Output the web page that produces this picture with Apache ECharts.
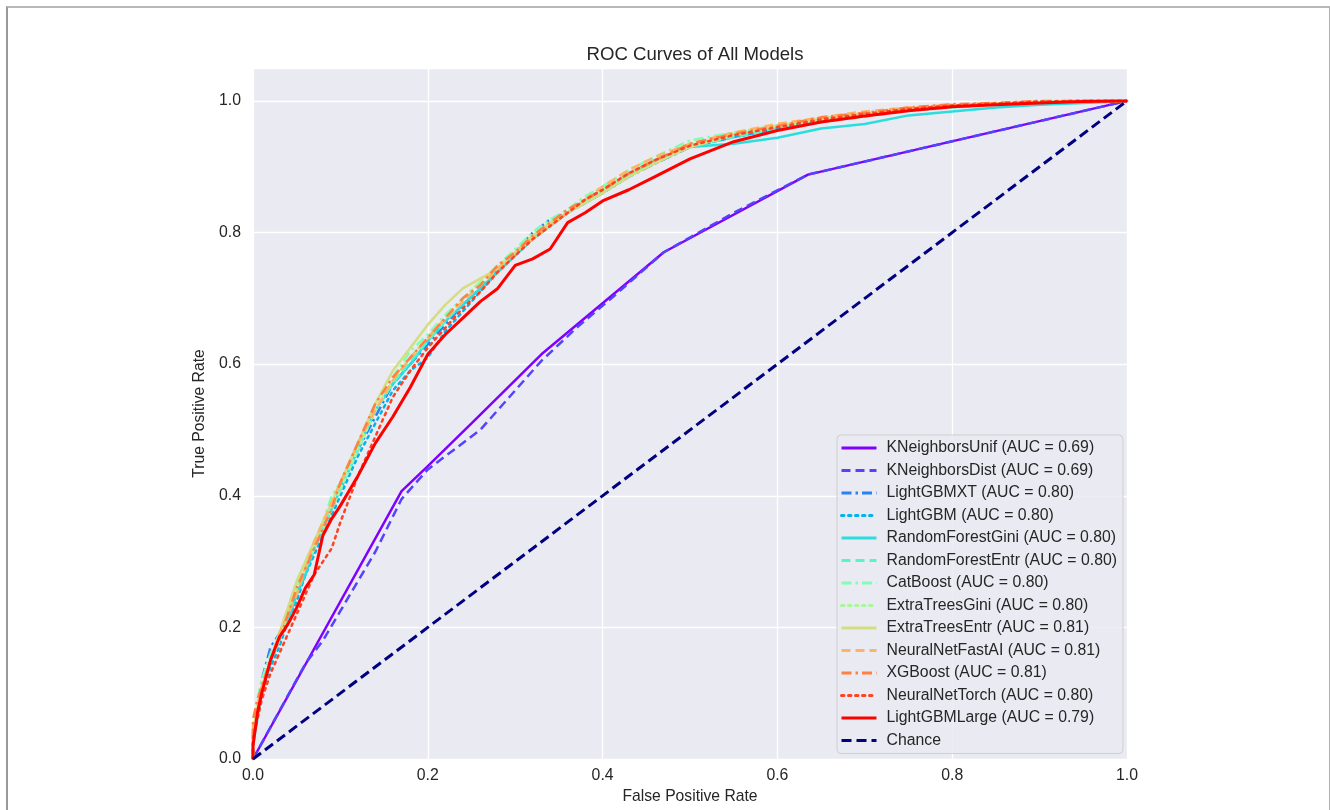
<!DOCTYPE html>
<html>
<head>
<meta charset="utf-8">
<script src="https://cdn.jsdelivr.net/npm/echarts@6/dist/echarts.min.js"></script>
<style>
  html, body { margin: 0; padding: 0; background: #fff; }
  #roc { width: 1330px; height: 810px; }
  #frame {
    position: absolute; left: 6px; top: 6px; width: 1321px; height: 900px;
    border-top: 2px solid #b8b8b8; border-left: 2px solid #999; border-right: 2px solid #b0b0b0;
    pointer-events: none;
  }
</style>
</head>
<body>
<div id="roc"></div>
<div id="frame"></div>
<script>
// shared false positive rate grid for the tree / boosting / neural net models
const fprGrid = [0, 0, 0.005, 0.01, 0.02, 0.03, 0.04, 0.05, 0.06, 0.07, 0.08, 0.09, 0.10, 0.12, 0.14, 0.16, 0.18, 0.20, 0.22, 0.24, 0.26, 0.28, 0.30, 0.32, 0.34, 0.36, 0.38, 0.40, 0.43, 0.46, 0.50, 0.55, 0.60, 0.65, 0.70, 0.75, 0.80, 0.85, 0.90, 0.95, 1.0];

// KNN models have their own (coarse) thresholds
const fprKNeighborsUnif = [0, 0.17, 0.20, 0.25, 0.33, 0.47, 0.635, 1.0];
const tprKNeighborsUnif = [0, 0.407, 0.445, 0.51, 0.615, 0.77, 0.888, 1.0];
const fprKNeighborsDist = [0, 0.06, 0.08, 0.10, 0.12, 0.14, 0.17, 0.20, 0.23, 0.26, 0.30, 0.33, 0.37, 0.41, 0.47, 0.55, 0.635, 1.0];
const tprKNeighborsDist = [0, 0.145, 0.18, 0.225, 0.27, 0.315, 0.395, 0.44, 0.47, 0.50, 0.56, 0.605, 0.655, 0.70, 0.77, 0.83, 0.888, 1.0];

const tprLightGBMXT = [0, 0.04, 0.08, 0.12, 0.17, 0.19, 0.22, 0.25, 0.28, 0.32, 0.35, 0.39, 0.41, 0.47, 0.52, 0.57, 0.60, 0.63, 0.66, 0.69, 0.715, 0.745, 0.77, 0.80, 0.82, 0.83, 0.85, 0.865, 0.885, 0.905, 0.93, 0.945, 0.957, 0.968, 0.978, 0.986, 0.991, 0.995, 0.998, 1.0, 1.0];
const tprLightGBM = [0, 0.03, 0.07, 0.10, 0.14, 0.17, 0.21, 0.24, 0.28, 0.31, 0.34, 0.37, 0.40, 0.46, 0.51, 0.56, 0.59, 0.61, 0.65, 0.68, 0.71, 0.74, 0.765, 0.79, 0.81, 0.83, 0.845, 0.86, 0.885, 0.905, 0.93, 0.945, 0.958, 0.97, 0.978, 0.986, 0.991, 0.995, 0.998, 1.0, 1.0];
const tprRandomForestGini = [0, 0.02, 0.06, 0.10, 0.15, 0.18, 0.21, 0.25, 0.28, 0.32, 0.35, 0.38, 0.41, 0.47, 0.53, 0.57, 0.60, 0.635, 0.665, 0.69, 0.715, 0.74, 0.765, 0.79, 0.81, 0.83, 0.845, 0.86, 0.885, 0.91, 0.93, 0.935, 0.944, 0.958, 0.965, 0.978, 0.984, 0.99, 0.994, 0.997, 1.0];
const tprRandomForestEntr = [0, 0.03, 0.07, 0.10, 0.15, 0.18, 0.22, 0.26, 0.29, 0.32, 0.35, 0.38, 0.41, 0.47, 0.53, 0.57, 0.605, 0.635, 0.665, 0.695, 0.72, 0.745, 0.77, 0.795, 0.815, 0.83, 0.85, 0.865, 0.89, 0.91, 0.93, 0.945, 0.957, 0.968, 0.976, 0.985, 0.99, 0.994, 0.997, 0.999, 1.0];
const tprCatBoost = [0, 0.05, 0.09, 0.12, 0.16, 0.19, 0.23, 0.27, 0.30, 0.33, 0.36, 0.40, 0.42, 0.48, 0.54, 0.58, 0.62, 0.645, 0.675, 0.70, 0.725, 0.75, 0.775, 0.80, 0.82, 0.835, 0.855, 0.87, 0.895, 0.915, 0.94, 0.952, 0.963, 0.973, 0.981, 0.988, 0.993, 0.996, 0.999, 1.0, 1.0];
const tprExtraTreesGini = [0, 0.04, 0.08, 0.11, 0.15, 0.18, 0.22, 0.26, 0.29, 0.32, 0.35, 0.38, 0.41, 0.47, 0.53, 0.575, 0.61, 0.64, 0.67, 0.70, 0.725, 0.75, 0.77, 0.79, 0.81, 0.83, 0.85, 0.865, 0.89, 0.91, 0.935, 0.95, 0.962, 0.972, 0.98, 0.987, 0.992, 0.995, 0.998, 1.0, 1.0];
const tprExtraTreesEntr = [0, 0.04, 0.08, 0.11, 0.15, 0.19, 0.23, 0.27, 0.30, 0.33, 0.36, 0.39, 0.42, 0.48, 0.54, 0.59, 0.625, 0.66, 0.69, 0.715, 0.73, 0.745, 0.77, 0.795, 0.815, 0.83, 0.845, 0.86, 0.885, 0.905, 0.93, 0.948, 0.962, 0.973, 0.981, 0.988, 0.992, 0.996, 0.998, 1.0, 1.0];
const tprNeuralNetFastAI = [0, 0.05, 0.08, 0.11, 0.15, 0.19, 0.22, 0.25, 0.29, 0.33, 0.36, 0.39, 0.42, 0.48, 0.53, 0.575, 0.61, 0.64, 0.67, 0.695, 0.72, 0.745, 0.77, 0.79, 0.81, 0.83, 0.85, 0.87, 0.895, 0.915, 0.935, 0.952, 0.965, 0.975, 0.984, 0.99, 0.994, 0.997, 0.999, 1.0, 1.0];
const tprXGBoost = [0, 0.06, 0.09, 0.11, 0.15, 0.18, 0.22, 0.26, 0.29, 0.32, 0.35, 0.38, 0.42, 0.48, 0.54, 0.58, 0.61, 0.64, 0.67, 0.70, 0.72, 0.75, 0.77, 0.795, 0.815, 0.835, 0.85, 0.865, 0.89, 0.91, 0.935, 0.95, 0.962, 0.975, 0.982, 0.99, 0.995, 0.997, 1.0, 1.0, 1.0];
const tprNeuralNetTorch = [0, 0.03, 0.06, 0.09, 0.13, 0.16, 0.19, 0.22, 0.25, 0.28, 0.30, 0.32, 0.36, 0.43, 0.49, 0.55, 0.59, 0.625, 0.655, 0.685, 0.71, 0.74, 0.765, 0.79, 0.81, 0.83, 0.85, 0.865, 0.89, 0.91, 0.932, 0.948, 0.96, 0.972, 0.98, 0.988, 0.993, 0.996, 0.999, 1.0, 1.0];
const tprLightGBMLarge = [0, 0.02, 0.07, 0.10, 0.15, 0.185, 0.205, 0.23, 0.26, 0.28, 0.34, 0.365, 0.385, 0.43, 0.48, 0.52, 0.565, 0.615, 0.645, 0.67, 0.695, 0.715, 0.75, 0.76, 0.775, 0.815, 0.83, 0.848, 0.865, 0.885, 0.912, 0.938, 0.955, 0.968, 0.977, 0.985, 0.991, 0.994, 0.997, 0.999, 1.0];

const fprChance = [0, 1];
const tprChance = [0, 1];

const modelNames = ["KNeighborsUnif", "KNeighborsDist", "LightGBMXT", "LightGBM", "RandomForestGini", "RandomForestEntr", "CatBoost", "ExtraTreesGini", "ExtraTreesEntr", "NeuralNetFastAI", "XGBoost", "NeuralNetTorch", "LightGBMLarge"];
const modelAuc = ["0.69", "0.69", "0.80", "0.80", "0.80", "0.80", "0.80", "0.80", "0.81", "0.81", "0.81", "0.80", "0.79"];
const modelFpr = [fprKNeighborsUnif, fprKNeighborsDist, fprGrid, fprGrid, fprGrid, fprGrid, fprGrid, fprGrid, fprGrid, fprGrid, fprGrid, fprGrid, fprGrid];
const modelTpr = [tprKNeighborsUnif, tprKNeighborsDist, tprLightGBMXT, tprLightGBM, tprRandomForestGini, tprRandomForestEntr, tprCatBoost, tprExtraTreesGini, tprExtraTreesEntr, tprNeuralNetFastAI, tprXGBoost, tprNeuralNetTorch, tprLightGBMLarge];

// styles: matplotlib "rainbow" colours, cycling solid / dashed / dashdot / dotted
const lineColors = ["#8000ff", "#5542fd", "#2b80f6", "#00b4ec", "#2bdddd", "#55f6ca", "#80ffb4", "#aaf69b", "#d4dd80", "#ffb462", "#ff8042", "#ff4221", "#ff0000"];
const dashCycle = ["solid", [9, 5], [10, 4, 2.5, 4], [2.5, 4.5]];

const zip = (xs, ys) => xs.map((x, i) => [x, ys[i]]);

const series = modelNames.map((name, i) => {
  const last = i === modelNames.length - 1;
  return {
    name: name + " (AUC = " + modelAuc[i] + ")",
    type: "line",
    symbol: "none",
    data: zip(modelFpr[i], modelTpr[i]),
    lineStyle: {
      color: lineColors[i],
      width: last ? 3 : 2.5,
      type: dashCycle[i % 4],
      cap: i % 4 === 3 ? "round" : "butt",
    },
    itemStyle: { color: lineColors[i] },
    emphasis: { disabled: true },
  };
});
series.push({
  name: "Chance",
  type: "line",
  symbol: "none",
  data: zip(fprChance, tprChance),
  lineStyle: { color: "#000080", width: 3, type: [10, 5] },
  itemStyle: { color: "#000080" },
  emphasis: { disabled: true },
});

const font = "'Liberation Sans', Arial, sans-serif";
const ink = "#262626";

const option = {
  animation: false,
  backgroundColor: "#ffffff",
  title: {
    text: "ROC Curves of All Models",
    left: 690,
    textAlign: "center",
    top: 40,
    textStyle: { fontFamily: font, fontSize: 18.6, fontWeight: "normal", color: ink },
  },
  grid: {
    left: 253, right: 203, top: 68, bottom: 48,
    show: true, backgroundColor: "#eaeaf2", borderWidth: 0,
  },
  legend: {
    orient: "vertical",
    left: 837,
    top: 435,
    itemWidth: 35,
    itemHeight: 14,
    itemGap: 6.5,
    padding: [5, 6, 5, 3],
    backgroundColor: "rgba(234,234,242,0.85)",
    borderColor: "#cfcfcf",
    borderWidth: 1,
    borderRadius: 4,
    itemStyle: { opacity: 0 },
    lineStyle: { width: 3 },
    textStyle: { fontFamily: font, fontSize: 15.8, color: ink, lineHeight: 14, padding: [0, 0, 0, 5] },
    data: series.map((s) => s.name),
  },
  xAxis: {
    type: "value",
    min: 0, max: 1, interval: 0.2,
    name: "False Positive Rate",
    nameLocation: "middle",
    nameGap: 30,
    nameTextStyle: { fontFamily: font, fontSize: 15.7, color: ink },
    axisLine: { show: false },
    axisTick: { show: false },
    axisLabel: { margin: 9, fontFamily: font, fontSize: 15.8, color: ink, formatter: (v) => v.toFixed(1) },
    splitLine: { lineStyle: { color: "#ffffff", width: 1.3 } },
  },
  yAxis: {
    type: "value",
    min: 0, max: 1.05, interval: 0.2,
    name: "True Positive Rate",
    nameLocation: "middle",
    nameGap: 40,
    nameTextStyle: { fontFamily: font, fontSize: 15.7, color: ink },
    axisLine: { show: false },
    axisTick: { show: false },
    axisLabel: {
      margin: 12, fontFamily: font, fontSize: 15.8, color: ink,
      showMaxLabel: false,
      formatter: (v) => (Math.abs(v * 5 - Math.round(v * 5)) < 1e-6 ? v.toFixed(1) : ""),
    },
    splitLine: { lineStyle: { color: ["#ffffff"], width: 1.3 } },
  },
  series: series,
};

const myChart = echarts.init(document.getElementById("roc"));
myChart.setOption(option);
</script>
</body>
</html>
